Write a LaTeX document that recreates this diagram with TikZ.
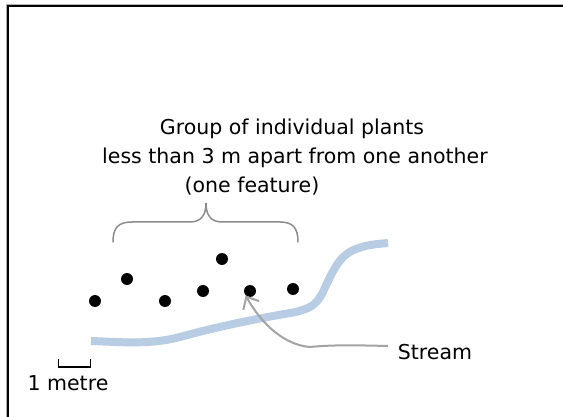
\documentclass[tikz,border=0pt]{standalone}
\usepackage{fontspec}
\setmainfont{DejaVu Sans}
\usetikzlibrary{arrows.meta}
\definecolor{streamblue}{HTML}{B8CCE4}
\definecolor{bracegray}{HTML}{8C8C8C}
\definecolor{arrowgray}{HTML}{A3A3A3}
\tikzset{
  lbl/.style={font=\fontsize{20.5}{24}\selectfont, inner sep=0pt, anchor=center},
  plant/.style={circle, fill=black, minimum size=12pt, inner sep=0pt},
  framel/.style={line width=2pt, black},
}
\begin{document}
\begin{tikzpicture}[x=1pt,y=-1pt]
\useasboundingbox (0,0) rectangle (563,417);
\fill[white] (0,0) rectangle (563,417);
% frame
\coordinate (fr) at (563,6);
\coordinate (fc) at (7.5,6);
\coordinate (fb) at (7.5,417);
\draw[gray!60, line width=1pt] (563,4.5) -- (6,4.5) -- (6,417);
\draw[framel] (fr) -- (fc) -- (fb);
% texts
\node[lbl] (t1) at (292,129) {Group of individual plants};
\node[lbl] (t2) at (295,158) {less than 3 m apart from one another};
\node[lbl] (t3) at (252,186) {(one feature)};
% brace
\coordinate (bl) at (113,242);
\coordinate (bm) at (206,203);
\coordinate (br) at (298,242);
\draw[bracegray, line width=1.5pt, line cap=round]
  (bl) .. controls (113,228) and (118,222) .. (132,222) -- (190,222)
  .. controls (202,222) and (206,214) .. (bm)
  .. controls (206,214) and (210,222) .. (222,222) -- (280,222)
  .. controls (293,222) and (298,228) .. (br);
% stream
\coordinate (s0) at (91,341);
\coordinate (s1) at (388,243);
\draw[streamblue, line width=8pt]
  (s0) .. controls (120,342) and (150,345) .. (180,337)
  .. controls (220,326) and (260,318) .. (296,312)
  .. controls (310,308) and (315,306) .. (322,294)
  .. controls (334,268) and (340,255) .. (356,249)
  .. controls (366,245) and (376,244) .. (s1);
% plants
\node[plant] (p1) at (95,301) {};
\node[plant] (p2) at (127,279) {};
\node[plant] (p3) at (165,301) {};
\node[plant] (p4) at (203,291) {};
\node[plant] (p5) at (222,259) {};
\node[plant] (p6) at (250,291) {};
\node[plant] (p7) at (293,289) {};
% stream label and arrow
\node[lbl] (st) at (435,352) {Stream};
\coordinate (sa) at (388,346);
\draw[arrowgray, line width=2pt, -{Straight Barb[length=10pt,width=18pt,line width=2pt]}]
  (sa) .. controls (350,345) and (330,345) .. (310,347)
  .. controls (285,345) and (262,325) .. (p6.south west);
% scale bar
\coordinate (m1) at (58.5,359);
\coordinate (m2) at (90.5,359);
\draw[black, line width=1.5pt] (m1) -- (58.5,367) -- (90.5,367) -- (m2);
\node[lbl] (ml) at (68,383) {1 metre};
\end{tikzpicture}
\end{document}
